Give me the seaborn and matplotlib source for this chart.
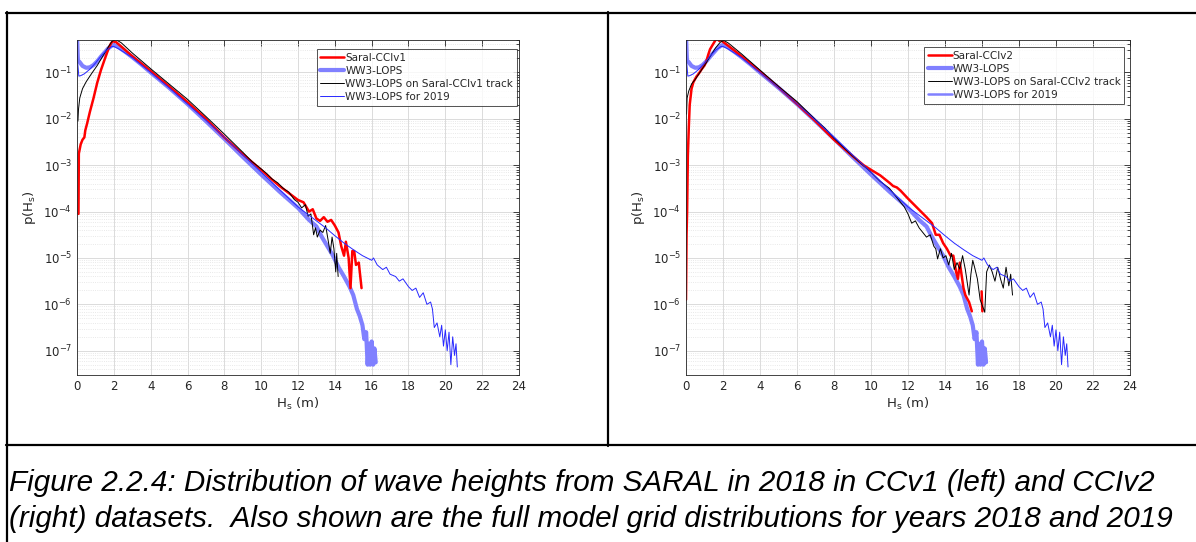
import matplotlib
matplotlib.use("Agg")
import numpy as np
import pandas as pd
import matplotlib.pyplot as plt
from matplotlib.lines import Line2D
from matplotlib.ticker import LogLocator, NullFormatter, MultipleLocator
import seaborn as sns

# ---------------- data (H_s in m, values are log10 p(H_s)) ----------------
# full model grid, 2018 (same in both panels)
ww3_h = [0.0, 0.05, 0.15, 0.3, 0.5, 0.7, 0.9, 1.1, 1.3, 1.5, 1.7, 1.9, 2.0, 2.2, 2.6, 3.0,
         3.5, 4.0, 5.0, 6.0, 7.0, 8.0, 9.0, 10.0, 11.0, 12.0, 12.6, 13.0, 13.3, 13.6, 13.9,
         14.2, 14.5, 14.8, 15.0, 15.2, 15.35, 15.5, 15.6, 15.7, 15.78, 15.85, 15.92, 16.0,
         16.08, 16.15, 16.22]
ww3_logp = [-0.2, -0.74, -0.78, -0.86, -0.9, -0.89, -0.84, -0.76, -0.66, -0.57, -0.48, -0.42,
            -0.41, -0.44, -0.55, -0.67, -0.83, -1.0, -1.33, -1.68, -2.05, -2.43, -2.82, -3.2,
            -3.57, -3.92, -4.18, -4.32, -4.55, -4.75, -4.95, -5.2, -5.4, -5.62, -5.8, -6.1,
            -6.25, -6.45, -6.75, -6.6, -7.3, -6.85, -7.3, -6.8, -7.3, -6.95, -7.25]

# full model grid, 2019 (same in both panels)
y2019_h = [0.0, 0.04, 0.1, 0.2, 0.4, 0.7, 1.0, 1.3, 1.6, 1.9, 2.0, 2.3, 3.0, 4.0, 5.0, 6.0,
           7.0, 8.0, 9.0, 10.0, 11.0, 12.0, 12.6, 13.0, 13.5, 14.0, 14.5, 15.0, 15.5, 16.0,
           16.1, 16.3, 16.6, 16.8, 17.0, 17.3, 17.5, 17.7, 18.0, 18.2, 18.4, 18.6, 18.8, 19.0,
           19.2, 19.3, 19.4, 19.55, 19.7, 19.8, 19.9, 20.0, 20.1, 20.2, 20.3, 20.4, 20.5,
           20.58, 20.65]
y2019_logp = [-0.2, -0.8, -1.08, -1.07, -1.03, -0.93, -0.8, -0.65, -0.52, -0.44, -0.44, -0.5,
              -0.68, -1.0, -1.33, -1.68, -2.03, -2.4, -2.78, -3.15, -3.53, -3.9, -4.08, -4.2,
              -4.35, -4.52, -4.68, -4.82, -4.95, -5.05, -5.0, -5.15, -5.25, -5.2, -5.35, -5.4,
              -5.5, -5.45, -5.62, -5.7, -5.65, -5.85, -5.75, -6.0, -5.95, -6.1, -6.5, -6.4,
              -6.7, -6.45, -6.9, -6.55, -7.0, -6.6, -7.3, -6.7, -7.1, -6.85, -7.35]

# left panel: Saral-CCIv1
sat1_h = [0.08, 0.1, 0.15, 0.2, 0.3, 0.4, 0.45, 0.55, 0.7, 0.9, 1.1, 1.3, 1.5, 1.7, 1.85,
          1.95, 2.1, 2.4, 3.0, 4.0, 5.0, 6.0, 7.0, 8.0, 9.0, 10.0, 10.5, 11.0, 11.5, 12.0,
          12.3, 12.6, 12.8, 13.0, 13.2, 13.4, 13.6, 13.8, 14.0, 14.2, 14.35, 14.5, 14.6,
          14.75, 14.85, 14.95, 15.05, 15.15, 15.3, 15.45]
sat1_logp = [-4.05, -2.75, -2.65, -2.55, -2.45, -2.4, -2.25, -2.1, -1.85, -1.55, -1.22, -0.95,
             -0.72, -0.5, -0.37, -0.33, -0.34, -0.44, -0.65, -0.97, -1.3, -1.64, -2.0, -2.4,
             -2.76, -3.1, -3.28, -3.45, -3.6, -3.75, -3.8, -4.0, -3.95, -4.15, -4.2, -4.12,
             -4.22, -4.18, -4.3, -4.45, -4.75, -4.95, -4.65, -5.0, -5.65, -4.85, -4.85, -5.15,
             -5.1, -5.65]

# left panel: model on Saral-CCIv1 track
trk1_h = [0.05, 0.08, 0.15, 0.3, 0.5, 0.8, 1.1, 1.4, 1.7, 1.9, 2.1, 2.4, 3.0, 4.0, 5.0, 6.0,
          7.0, 8.0, 9.0, 9.5, 10.0, 10.3, 10.6, 10.9, 11.2, 11.5, 11.8, 12.0, 12.2, 12.4,
          12.55, 12.7, 12.85, 12.95, 13.05, 13.2, 13.35, 13.5, 13.65, 13.75, 13.85, 13.95,
          14.05, 14.1, 14.18]
trk1_logp = [-2.05, -1.8, -1.55, -1.35, -1.2, -1.02, -0.85, -0.65, -0.45, -0.33, -0.29, -0.36,
             -0.58, -0.92, -1.25, -1.58, -1.95, -2.33, -2.72, -2.92, -3.08, -3.18, -3.3,
             -3.38, -3.5, -3.58, -3.74, -3.8, -3.92, -3.85, -4.1, -4.05, -4.5, -4.35, -4.55,
             -4.4, -4.45, -4.3, -4.65, -4.9, -4.55, -4.8, -5.3, -4.9, -5.4]

# right panel: Saral-CCIv2
sat2_h = [0.0, 0.03, 0.06, 0.1, 0.15, 0.2, 0.3, 0.4, 0.55, 0.7, 0.85, 1.0, 1.1, 1.2, 1.3,
          1.45, 1.6, 1.7, 1.8, 1.9, 2.0, 2.3, 3.0, 4.0, 5.0, 6.0, 7.0, 8.0, 9.0, 9.6, 10.0,
          10.5, 11.0, 11.2, 11.4, 11.6, 12.0, 12.5, 13.0, 13.3, 13.5, 13.7, 13.9, 14.1, 14.3,
          14.45, 14.6, 14.7, 14.8, 15.0, 15.1, 15.3, 15.45]
sat2_logp = [-5.9, -4.5, -4.0, -2.8, -2.2, -1.7, -1.35, -1.21, -1.1, -1.02, -0.93, -0.85, -0.76,
             -0.62, -0.5, -0.4, -0.3, -0.28, -0.32, -0.3, -0.34, -0.43, -0.65, -0.98, -1.32,
             -1.68, -2.05, -2.45, -2.8, -3.0, -3.1, -3.22, -3.38, -3.45, -3.48, -3.55, -3.72,
             -3.92, -4.12, -4.25, -4.5, -4.5, -4.68, -4.8, -4.95, -4.95, -5.3, -5.45, -5.1,
             -5.65, -5.8, -5.95, -6.15]
sat2_tail_h = [15.98, 16.02]
sat2_tail_logp = [-5.72, -6.15]

# right panel: model on Saral-CCIv2 track
trk2_h = [0.03, 0.06, 0.15, 0.3, 0.5, 0.75, 1.0, 1.3, 1.6, 1.85, 2.05, 2.3, 3.0, 4.0, 5.0,
          6.0, 7.0, 7.5, 8.0, 9.0, 10.0, 10.5, 11.0, 11.5, 11.8, 12.0, 12.2, 12.4, 12.6,
          12.8, 13.0, 13.2, 13.4, 13.5, 13.6, 13.75, 13.9, 14.05, 14.2, 14.35, 14.5, 14.65,
          14.8, 14.95, 15.1, 15.3, 15.4, 15.5, 15.6, 15.75, 15.9, 16.15, 16.25, 16.4, 16.55,
          16.7, 16.85, 17.0, 17.15, 17.3, 17.45, 17.55, 17.65]
trk2_logp = [-1.9, -1.55, -1.4, -1.25, -1.15, -1.0, -0.85, -0.66, -0.47, -0.35, -0.31, -0.37,
             -0.6, -0.95, -1.3, -1.63, -2.02, -2.2, -2.42, -2.8, -3.15, -3.35, -3.5, -3.75,
             -3.9, -4.05, -4.25, -4.2, -4.35, -4.45, -4.55, -4.5, -4.75, -4.8, -5.02, -4.8,
             -5.0, -4.95, -5.15, -4.9, -5.25, -5.1, -5.24, -4.95, -5.25, -5.8, -5.35, -5.05,
             -5.2, -5.45, -5.9, -6.17, -5.3, -5.15, -5.3, -5.5, -5.2, -5.45, -5.65, -5.2,
             -5.6, -5.35, -5.8]

x_ticks = list(range(0, 25, 2))
legend_left = ["Saral-CCIv1", "WW3-LOPS", "WW3-LOPS on Saral-CCIv1 track", "WW3-LOPS for 2019"]
legend_right = ["Saral-CCIv2", "WW3-LOPS", "WW3-LOPS on Saral-CCIv2 track", "WW3-LOPS for 2019"]
caption = ["Figure 2.2.4: Distribution of wave heights from SARAL in 2018 in CCv1 (left) and CCIv2",
           "(right) datasets.  Also shown are the full model grid distributions for years 2018 and 2019"]

# ---------------- style ----------------
sns.set_theme(style="white")
plt.rcParams['font.family'] = ['DejaVu Sans']
plt.rcParams['mathtext.fontset'] = 'dejavusans'

C_RED = '#ff0000'
C_LB = '#8080ff'
C_BK = '#000000'
C_BL = '#2828ff'
TXT = '#262626'

W, H = 1196, 542
fig = plt.figure(figsize=(W / 100, H / 100), dpi=100)
fig.patch.set_facecolor('white')


def px_rect(x0, y0, x1, y1):
    return [x0 / W, 1 - y1 / H, (x1 - x0) / W, (y1 - y0) / H]


def line(ax, h, lp, color, lw):
    df = pd.DataFrame({'h': h, 'p': np.power(10.0, lp)})
    sns.lineplot(data=df, x='h', y='p', ax=ax, color=color, linewidth=lw,
                 estimator=None, sort=False, legend=False)


def panel(ax, sat_h, sat_lp, trk_h, trk_lp, labels, anchor, tail=None, alt_legend=False):
    ax.set_yscale('log')
    line(ax, ww3_h, ww3_logp, C_LB, 3.0)
    line(ax, sat_h, sat_lp, C_RED, 1.8)
    if tail is not None:
        line(ax, tail[0], tail[1], C_RED, 1.8)
    line(ax, trk_h, trk_lp, C_BK, 0.7)
    line(ax, y2019_h, y2019_logp, C_BL, 0.7)

    ax.set_xlim(0, 24)
    ax.set_ylim(3e-8, 0.5)
    ax.xaxis.set_major_locator(MultipleLocator(2))
    ax.set_xticks(x_ticks)
    ax.yaxis.set_major_locator(LogLocator(base=10, numticks=20))
    ax.yaxis.set_minor_locator(LogLocator(base=10, subs=np.arange(2, 10), numticks=50))
    ax.yaxis.set_minor_formatter(NullFormatter())
    ax.tick_params(which='both', direction='in', top=True, right=True, colors=TXT,
                   labelsize=8.5, width=0.6)
    ax.tick_params(which='major', length=4)
    ax.tick_params(which='minor', length=2)
    ax.grid(which='major', color='#d6d6d6', linewidth=0.6, linestyle='-')
    ax.yaxis.grid(which='minor', color='#e2e2e2', linewidth=0.6, linestyle=':')
    for s in ax.spines.values():
        s.set_color(TXT)
        s.set_linewidth(0.6)
    ax.set_axisbelow(True)
    ax.set_xlabel(r'H$_\mathregular{s}$ (m)', fontsize=9.5, color=TXT, labelpad=2)
    ax.set_ylabel(r'p(H$_\mathregular{s}$)', fontsize=9.5, color=TXT, labelpad=4)

    handles = [Line2D([], [], color=C_RED, lw=1.8),
               Line2D([], [], color=C_LB, lw=3.0),
               Line2D([], [], color=C_BK, lw=0.7),
               Line2D([], [], color=C_LB if alt_legend else C_BL, lw=1.8 if alt_legend else 0.7)]
    leg = ax.legend(handles, labels, loc='upper right', bbox_to_anchor=anchor,
                    fontsize=7.5, frameon=True, fancybox=False, borderaxespad=0,
                    handlelength=2.3, handletextpad=0.1, labelspacing=0.3,
                    borderpad=0.35)
    leg.get_frame().set_edgecolor(TXT)
    leg.get_frame().set_linewidth(0.7)
    for t in leg.get_texts():
        t.set_color(TXT)


axL = fig.add_axes(px_rect(77, 40, 519, 375))
axR = fig.add_axes(px_rect(686, 40, 1130, 375))
panel(axL, sat1_h, sat1_logp, trk1_h, trk1_logp, legend_left, (0.995, 0.973))
panel(axR, sat2_h, sat2_logp, trk2_h, trk2_logp, legend_right, (0.987, 0.979),
      tail=(sat2_tail_h, sat2_tail_logp), alt_legend=True)

# table borders
def hline(y, x0, x1):
    fig.add_artist(Line2D([x0 / W, x1 / W], [1 - y / H, 1 - y / H], color='black',
                          lw=1.6, transform=fig.transFigure))


def vline(x, y0, y1):
    fig.add_artist(Line2D([x / W, x / W], [1 - y0 / H, 1 - y1 / H], color='black',
                          lw=1.6, transform=fig.transFigure))


hline(13, 6, W)
hline(445, 6, W)
vline(7, 12, H)
vline(608, 12, 446)

# caption
fig.text(9 / W, 1 - 491 / H, caption[0], fontsize=21.3, style='italic',
         family='Liberation Sans', color='black', va='baseline', ha='left')
fig.text(9 / W, 1 - 527 / H, caption[1], fontsize=21.3, style='italic',
         family='Liberation Sans', color='black', va='baseline', ha='left')

fig.savefig('out.png', dpi=100, facecolor='white')
